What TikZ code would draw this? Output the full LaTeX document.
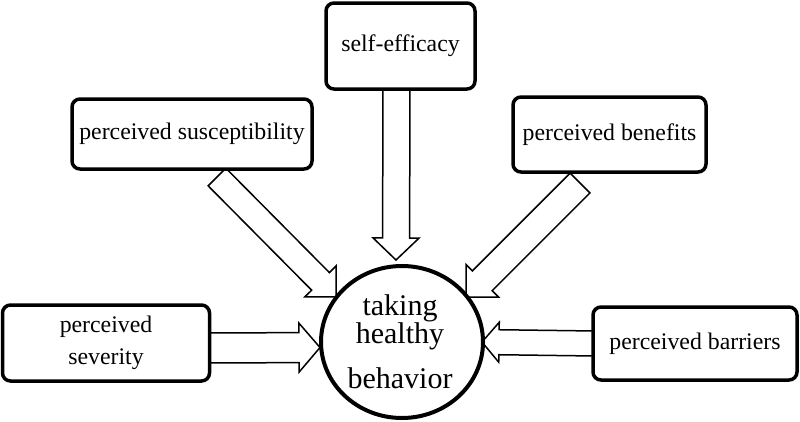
\documentclass[tikz,border=0pt]{standalone}
\usepackage{fontspec}
\setmainfont{Liberation Serif}
\usetikzlibrary{calc,shapes.geometric}
\tikzset{
  box/.style={draw, line width=3.5pt, rounded corners=8pt, fill=white, align=center, inner sep=0pt, font=\fontsize{23.8}{32}\selectfont},
  hbcirc/.style={draw, ellipse, line width=4pt, fill=white, inner sep=0pt, minimum width=162pt, minimum height=152pt},
  ctext/.style={anchor=base, inner sep=0pt, font=\fontsize{30}{32}\selectfont},
  blockarr/.style={draw, line width=1.5pt, fill=white, line join=miter}
}
\newcommand{\blockarrow}[5]{%
  \coordinate (tmpb) at ($(#2)!#5!(#1)$);
  \path[blockarr] ($(#1)!#3!90:(#2)$) -- ($(tmpb)!#3!-90:(#1)$) -- ($(tmpb)!#4!-90:(#1)$) -- (#2)
    -- ($(tmpb)!#4!90:(#1)$) -- ($(tmpb)!#3!90:(#1)$) -- ($(#1)!#3!-90:(#2)$) -- cycle;
}
\begin{document}
\begin{tikzpicture}[x=1pt,y=-1pt]
\useasboundingbox (0,0) rectangle (800,421);
% start and tip coordinates
\coordinate (s1) at (396.5,89);  \coordinate (t1) at (396,260);
\coordinate (s2) at (217,177);   \coordinate (t2) at (336,297);
\coordinate (s3) at (580,183);   \coordinate (t3) at (466,297);
\coordinate (s4) at (209,348);   \coordinate (t4) at (320,347.5);
\coordinate (s5) at (595,343.5); \coordinate (t5) at (482,342);
% arrows
\blockarrow{s1}{t1}{13.5pt}{23pt}{22pt}
\blockarrow{s2}{t2}{12.5pt}{22pt}{22pt}
\blockarrow{s3}{t3}{14pt}{23pt}{23pt}
\blockarrow{s4}{t4}{15pt}{24.5pt}{21pt}
\blockarrow{s5}{t5}{12.5pt}{20pt}{17pt}
% boxes
\node[box, minimum width=149pt, minimum height=86pt] (se) at (400.5,46) {self-efficacy};
\node[box, minimum width=240pt, minimum height=70pt] (ps) at (192,134) {perceived susceptibility};
\node[box, minimum width=193pt, minimum height=75pt] (pb) at (609.5,134.5) {perceived benefits};
\node[box, minimum width=207pt, minimum height=76pt] (pv) at (106,343) {perceived\\severity};
\node[box, minimum width=204pt, minimum height=73pt] (pr) at (695,343.5) {perceived barriers};
% centre
\node[hbcirc] (hb) at (402,342) {};
\node[ctext] (l1) at (400,315) {taking};
\node[ctext] (l2) at (400,343) {healthy};
\node[ctext] (l3) at (400,388) {behavior};
\end{tikzpicture}
\end{document}
